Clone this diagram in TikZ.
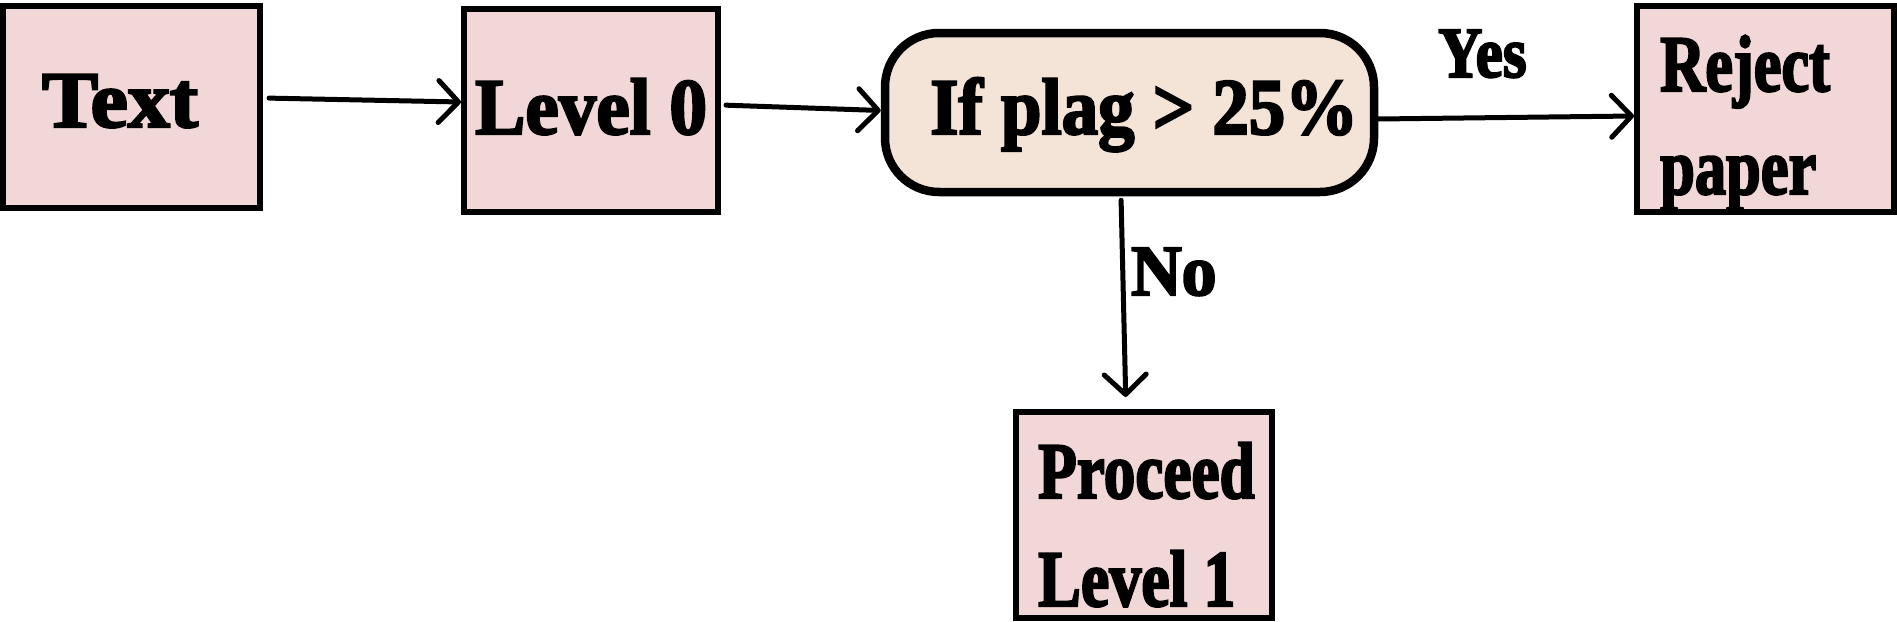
\documentclass[tikz,border=0pt]{standalone}
\usepackage{fontspec}
\usetikzlibrary{arrows.meta}
\newfontfamily\heavy{Liberation Serif Bold}[FakeBold=3]
\definecolor{pinkfill}{HTML}{F2D7D8}
\definecolor{peachfill}{HTML}{F4E4D8}
\tikzset{
  rectbox/.style={draw, line width=6pt, fill=pinkfill, inner sep=0pt},
  decbox/.style={draw, line width=8.5pt, fill=peachfill, inner sep=0pt, rounded corners=54pt},
  lbl/.style={anchor=base west, inner sep=0pt, font=\heavy\fontsize{80}{96}\selectfont},
  slbl/.style={anchor=base west, inner sep=0pt, font=\heavy\fontsize{72}{86}\selectfont},
  arr/.style={line width=5pt, line cap=round, -{Straight Barb[length=20pt,width=42pt,round]}}
}
\begin{document}
\begin{tikzpicture}[x=1pt,y=-1pt]
\useasboundingbox (0,0) rectangle (1897,621);
% boxes
\node[rectbox, minimum width=257pt, minimum height=202pt] (t) at (131.5,107) {};
\node[rectbox, minimum width=254pt, minimum height=203pt] (l0) at (591,110.5) {};
\node[decbox, minimum width=489pt, minimum height=159pt] (dec) at (1129.5,112.5) {};
\node[rectbox, minimum width=257pt, minimum height=206pt] (rej) at (1765.5,109) {};
\node[rectbox, minimum width=256pt, minimum height=206pt] (pro) at (1144,515) {};
% labels
\node[lbl] (tl) at (42,127) {\scalebox{1.05}[1]{Text}};
\node[lbl] (l0l) at (475,134) {\scalebox{0.94}[1]{Level 0}};
\node[lbl] (decl) at (930,134) {\scalebox{0.91}[1]{If plag > 25\%}};
\node[lbl] (rejl1) at (1660,91) {\scalebox{0.78}[1]{Reject}};
\node[lbl] (rejl2) at (1660,194) {\scalebox{0.78}[1]{paper}};
\node[lbl] (prol1) at (1038,498) {\scalebox{0.79}[1]{Proceed}};
\node[lbl] (prol2) at (1038,606) {\scalebox{0.8}[1]{Level 1}};
\node[slbl] (yes) at (1438,77) {\scalebox{0.85}[1]{Yes}};
\node[slbl] (no) at (1131,295) {\scalebox{0.97}[1]{No}};
% connectors
\draw[arr, shorten <=6pt] ([yshift=9pt]t.east) -- ([yshift=8.5pt]l0.west);
\draw[arr, shorten <=5pt] ([yshift=5.5pt]l0.east) -- ([yshift=2pt]dec.west);
\draw[arr] ([yshift=-6.5pt]dec.east) -- ([yshift=-7pt]rej.west);
\draw[arr, shorten <=4pt, shorten >=12pt] ([xshift=-8.5pt]dec.south) -- ([xshift=-18pt]pro.north);
\end{tikzpicture}
\end{document}
